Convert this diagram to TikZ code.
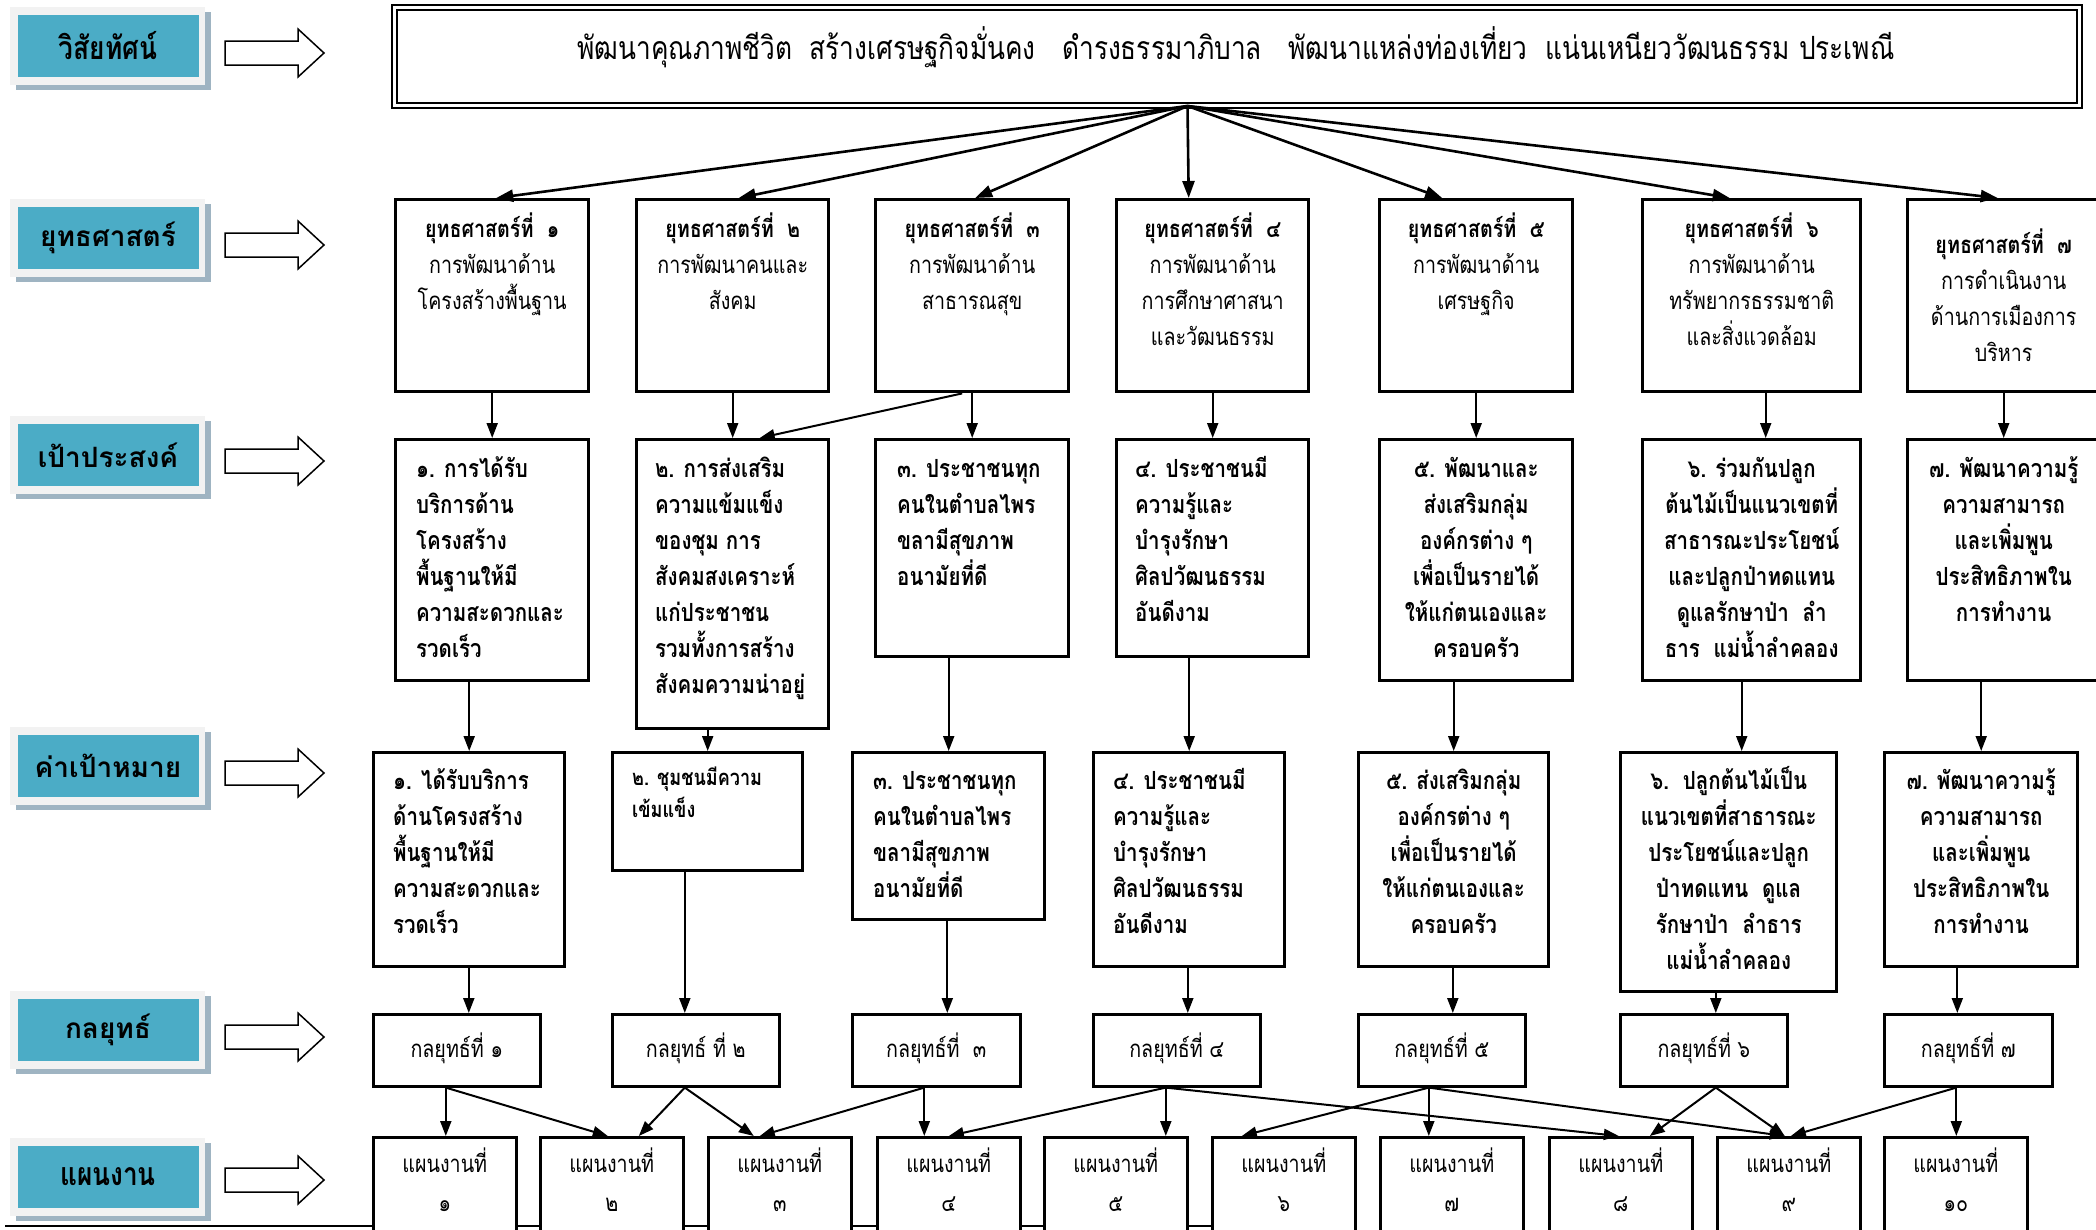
\documentclass[tikz,border=0pt]{standalone}
\usepackage{fontspec}
\usetikzlibrary{arrows.meta,calc}
\newfontfamily\thfont[Script=Thai,FakeStretch=0.82]{Loma}
\newfontfamily\thwide[Script=Thai]{Loma}
\definecolor{labteal}{HTML}{4BACC6}
\definecolor{labframe}{HTML}{F2F2F2}
\definecolor{labshadow}{HTML}{9FB4C2}
\newcommand\tstrut{\rule{0pt}{26pt}}
\newcommand\sidelabel[4]{%
  \fill[labshadow] (16,#2-35) rectangle (211,#2+43);
  \fill[labframe] (10,#2-40) rectangle (205,#2+38);
  \node[fill=labteal, minimum width=181, minimum height=62, inner sep=0pt, font=#4] (#1) at (108,#2-1) {#3};}
\newcommand\blockarrow[1]{%
  \draw[line width=1.5pt, fill=white, line join=miter] (225,#1-12) -- (298,#1-12) -- (298,#1-24) -- (324,#1) -- (298,#1+24) -- (298,#1+12) -- (225,#1+12) -- cycle;}
\begin{document}
\begin{tikzpicture}[x=1pt,y=-1pt,
  bx/.style={draw, line width=3.4pt, inner sep=0pt, anchor=north west, fill=white},
  kbx/.style={draw, line width=2.6pt, inner sep=0pt, anchor=north west, fill=white},
  st/.style={inner sep=0pt, anchor=north, align=center, font=\thfont\fontsize{24}{36}\selectfont},
  ot/.style={inner sep=0pt, anchor=north west, align=left, font=\thfont\bfseries\fontsize{25}{36}\selectfont},
  oc/.style={inner sep=0pt, anchor=north, align=center, font=\thfont\bfseries\fontsize{25}{36}\selectfont},
  kt/.style={inner sep=0pt, font=\thfont\fontsize{24}{36}\selectfont},
  pt/.style={inner sep=0pt, anchor=north, align=center, font=\thfont\fontsize{24}{39}\selectfont},
  con/.style={line width=2pt, -{Triangle[length=15pt,width=11pt]}},
  vcon/.style={line width=2.6pt, -{Triangle[length=17pt,width=12pt]}},
]
\useasboundingbox (0,0) rectangle (2096,1229);

% side labels
\sidelabel{lv}{47}{วิสัยทัศน์}{\thfont\bfseries\fontsize{32}{34}\selectfont}
\sidelabel{ls}{239}{ยุทธศาสตร์}{\thwide\bfseries\fontsize{28}{30}\selectfont}
\sidelabel{lo}{456}{เป้าประสงค์}{\thwide\bfseries\fontsize{28}{30}\selectfont}
\sidelabel{lt}{767}{ค่าเป้าหมาย}{\thwide\bfseries\fontsize{28}{30}\selectfont}
\sidelabel{lk}{1031}{กลยุทธ์}{\thwide\bfseries\fontsize{28}{30}\selectfont}
\sidelabel{lp}{1178}{แผนงาน}{\thfont\bfseries\fontsize{32}{34}\selectfont}
\blockarrow{53}
\blockarrow{245}
\blockarrow{461}
\blockarrow{773}
\blockarrow{1037}
\blockarrow{1180}

% vision
\node[draw, double, double distance=3pt, line width=2pt, inner sep=0pt, anchor=north west,
      minimum width=1685, minimum height=98] (vis) at (393,6) {};
\node[inner sep=0pt, font=\thfont\fontsize{32}{36}\selectfont] (vist) at (1236,47)
  {พัฒนาคุณภาพชีวิต\ \ สร้างเศรษฐกิจมั่นคง\ \ \ ดำรงธรรมาภิบาล\ \ \ พัฒนาแหล่งท่องเที่ยว\ \ แน่นเหนียววัฒนธรรม ประเพณี};

% strategies
\node[bx, minimum width=193, minimum height=192] (s1) at (394,198) {};
\node[bx, minimum width=192, minimum height=192] (s2) at (635,198) {};
\node[bx, minimum width=193, minimum height=192] (s3) at (874,198) {};
\node[bx, minimum width=192, minimum height=192] (s4) at (1115,198) {};
\node[bx, minimum width=193, minimum height=192] (s5) at (1378,198) {};
\node[bx, minimum width=218, minimum height=192] (s6) at (1641,198) {};
\node[bx, minimum width=192, minimum height=192] (s7) at (1906,198) {};
\node[st] (s1t) at ($(s1.north)+(0,13)$) {\tstrut\textbf{ยุทธศาสตร์ที่\ \ ๑}\\การพัฒนาด้าน\\โครงสร้างพื้นฐาน};
\node[st] (s2t) at ($(s2.north)+(0,13)$) {\tstrut\textbf{ยุทธศาสตร์ที่\ \ ๒}\\การพัฒนาคนและ\\สังคม};
\node[st] (s3t) at ($(s3.north)+(0,13)$) {\tstrut\textbf{ยุทธศาสตร์ที่\ \ ๓}\\การพัฒนาด้าน\\สาธารณสุข};
\node[st] (s4t) at ($(s4.north)+(0,13)$) {\tstrut\textbf{ยุทธศาสตร์ที่\ \ ๔}\\การพัฒนาด้าน\\การศึกษาศาสนา\\และวัฒนธรรม};
\node[st] (s5t) at ($(s5.north)+(0,13)$) {\tstrut\textbf{ยุทธศาสตร์ที่\ \ ๕}\\การพัฒนาด้าน\\เศรษฐกิจ};
\node[st] (s6t) at ($(s6.north)+(0,13)$) {\tstrut\textbf{ยุทธศาสตร์ที่\ \ ๖}\\การพัฒนาด้าน\\ทรัพยากรธรรมชาติ\\และสิ่งแวดล้อม};
\node[st] (s7t) at ($(s7.north)+(0,29)$) {\tstrut\textbf{ยุทธศาสตร์ที่\ \ ๗}\\การดำเนินงาน\\ด้านการเมืองการ\\บริหาร};

% objectives
\node[bx, minimum width=193, minimum height=241] (o1) at (394,438) {};
\node[bx, minimum width=192, minimum height=289] (o2) at (635,438) {};
\node[bx, minimum width=193, minimum height=217] (o3) at (874,438) {};
\node[bx, minimum width=192, minimum height=217] (o4) at (1115,438) {};
\node[bx, minimum width=193, minimum height=241] (o5) at (1378,438) {};
\node[bx, minimum width=218, minimum height=241] (o6) at (1641,438) {};
\node[bx, minimum width=192, minimum height=241] (o7) at (1906,438) {};
\node[ot] (o1t) at ($(o1.north west)+(22,13)$) {\tstrut๑. การได้รับ\\บริการด้าน\\โครงสร้าง\\พื้นฐานให้มี\\ความสะดวกและ\\รวดเร็ว};
\node[ot] (o2t) at ($(o2.north west)+(20,13)$) {\tstrut๒. การส่งเสริม\\ความแข้มแข็ง\\ของชุม การ\\สังคมสงเคราะห์\\แก่ประชาชน\\รวมทั้งการสร้าง\\สังคมความน่าอยู่};
\node[ot] (o3t) at ($(o3.north west)+(23,13)$) {\tstrut๓. ประชาชนทุก\\คนในตำบลไพร\\ขลามีสุขภาพ\\อนามัยที่ดี};
\node[ot] (o4t) at ($(o4.north west)+(20,13)$) {\tstrut๔. ประชาชนมี\\ความรู้และ\\บำรุงรักษา\\ศิลปวัฒนธรรม\\อันดีงาม};
\node[oc] (o5t) at ($(o5.north)+(0,13)$) {\tstrut๕. พัฒนาและ\\ส่งเสริมกลุ่ม\\องค์กรต่าง ๆ\\เพื่อเป็นรายได้\\ให้แก่ตนเองและ\\ครอบครัว};
\node[oc] (o6t) at ($(o6.north)+(0,13)$) {\tstrut๖. ร่วมกันปลูก\\ต้นไม้เป็นแนวเขตที่\\สาธารณะประโยชน์\\และปลูกป่าทดแทน\\ดูแลรักษาป่า\ \ ลำ\\ธาร\ \ แม่น้ำลำคลอง};
\node[oc] (o7t) at ($(o7.north)+(0,13)$) {\tstrut๗. พัฒนาความรู้\\ความสามารถ\\และเพิ่มพูน\\ประสิทธิภาพใน\\การทำงาน};

% targets
\node[bx, minimum width=191, minimum height=214] (t1) at (372,751) {};
\node[bx, minimum width=190, minimum height=118] (t2) at (611,751) {};
\node[bx, minimum width=192, minimum height=167] (t3) at (851,751) {};
\node[bx, minimum width=191, minimum height=214] (t4) at (1092,751) {};
\node[bx, minimum width=190, minimum height=214] (t5) at (1357,751) {};
\node[bx, minimum width=216, minimum height=239] (t6) at (1619,751) {};
\node[bx, minimum width=193, minimum height=214] (t7) at (1883,751) {};
\node[ot] (t1t) at ($(t1.north west)+(21,12)$) {\tstrut๑. ได้รับบริการ\\ด้านโครงสร้าง\\พื้นฐานให้มี\\ความสะดวกและ\\รวดเร็ว};
\node[ot, font=\thfont\bfseries\fontsize{22}{32}\selectfont] (t2t) at ($(t2.north west)+(21,11)$) {\rule{0pt}{23pt}๒. ชุมชนมีความ\\เข้มแข็ง};
\node[ot] (t3t) at ($(t3.north west)+(22,12)$) {\tstrut๓. ประชาชนทุก\\คนในตำบลไพร\\ขลามีสุขภาพ\\อนามัยที่ดี};
\node[ot] (t4t) at ($(t4.north west)+(21,12)$) {\tstrut๔. ประชาชนมี\\ความรู้และ\\บำรุงรักษา\\ศิลปวัฒนธรรม\\อันดีงาม};
\node[oc] (t5t) at ($(t5.north)+(0,12)$) {\tstrut๕. ส่งเสริมกลุ่ม\\องค์กรต่าง ๆ\\เพื่อเป็นรายได้\\ให้แก่ตนเองและ\\ครอบครัว};
\node[oc] (t6t) at ($(t6.north)+(0,12)$) {\tstrut๖.\ \ ปลูกต้นไม้เป็น\\แนวเขตที่สาธารณะ\\ประโยชน์และปลูก\\ป่าทดแทน\ \ ดูแล\\รักษาป่า\ \ ลำธาร\\แม่น้ำลำคลอง};
\node[oc] (t7t) at ($(t7.north)+(0,12)$) {\tstrut๗. พัฒนาความรู้\\ความสามารถ\\และเพิ่มพูน\\ประสิทธิภาพใน\\การทำงาน};

% strategies (kloyut)
\node[kbx, minimum width=167, minimum height=72] (k1) at (372,1013) {};
\node[kbx, minimum width=167, minimum height=72] (k2) at (611,1013) {};
\node[kbx, minimum width=168, minimum height=72] (k3) at (851,1013) {};
\node[kbx, minimum width=167, minimum height=72] (k4) at (1092,1013) {};
\node[kbx, minimum width=167, minimum height=72] (k5) at (1357,1013) {};
\node[kbx, minimum width=167, minimum height=72] (k6) at (1619,1013) {};
\node[kbx, minimum width=168, minimum height=72] (k7) at (1883,1013) {};
\node[kt] (k1t) at ($(k1.center)+(0,-2)$) {กลยุทธ์ที่ ๑};
\node[kt] (k2t) at ($(k2.center)+(0,-2)$) {กลยุทธ์ ที่ ๒};
\node[kt] (k3t) at ($(k3.center)+(0,-2)$) {กลยุทธ์ที่\ \ ๓};
\node[kt] (k4t) at ($(k4.center)+(0,-2)$) {กลยุทธ์ที่ ๔};
\node[kt] (k5t) at ($(k5.center)+(0,-2)$) {กลยุทธ์ที่ ๕};
\node[kt] (k6t) at ($(k6.center)+(0,-2)$) {กลยุทธ์ที่ ๖};
\node[kt] (k7t) at ($(k7.center)+(0,-2)$) {กลยุทธ์ที่ ๗};

% bottom rule and plans
\coordinate (rl) at (5,1226);
\coordinate (rr) at (1211,1226);
\draw[line width=2.5pt] (rl) -- (rr);
\node[kbx, minimum width=143, minimum height=110] (p1) at (372,1136) {};
\node[kbx, minimum width=143, minimum height=110] (p2) at (539,1136) {};
\node[kbx, minimum width=143, minimum height=110] (p3) at (707,1136) {};
\node[kbx, minimum width=143, minimum height=110] (p4) at (876,1136) {};
\node[kbx, minimum width=143, minimum height=110] (p5) at (1043,1136) {};
\node[kbx, minimum width=143, minimum height=110] (p6) at (1211,1136) {};
\node[kbx, minimum width=143, minimum height=110] (p7) at (1379,1136) {};
\node[kbx, minimum width=143, minimum height=110] (p8) at (1548,1136) {};
\node[kbx, minimum width=143, minimum height=110] (p9) at (1716,1136) {};
\node[kbx, minimum width=143, minimum height=110] (p10) at (1883,1136) {};
\node[pt] (p1t) at ($(p1.north)+(0,10)$) {\tstrut แผนงานที่\\๑};
\node[pt] (p2t) at ($(p2.north)+(0,10)$) {\tstrut แผนงานที่\\๒};
\node[pt] (p3t) at ($(p3.north)+(0,10)$) {\tstrut แผนงานที่\\๓};
\node[pt] (p4t) at ($(p4.north)+(0,10)$) {\tstrut แผนงานที่\\๔};
\node[pt] (p5t) at ($(p5.north)+(0,10)$) {\tstrut แผนงานที่\\๕};
\node[pt] (p6t) at ($(p6.north)+(0,10)$) {\tstrut แผนงานที่\\๖};
\node[pt] (p7t) at ($(p7.north)+(0,10)$) {\tstrut แผนงานที่\\๗};
\node[pt] (p8t) at ($(p8.north)+(0,10)$) {\tstrut แผนงานที่\\๘};
\node[pt] (p9t) at ($(p9.north)+(0,10)$) {\tstrut แผนงานที่\\๙};
\node[pt] (p10t) at ($(p10.north)+(0,10)$) {\tstrut แผนงานที่\\๑๐};

% vision -> strategies
\coordinate (vo) at ($(vis.south)+(-49,0)$);
\draw[vcon] (vo) -- ($(s1.north)+(4,0)$);
\draw[vcon] (vo) -- ($(s2.north)+(6,0)$);
\draw[vcon] (vo) -- ($(s3.north)+(3,0)$);
\draw[vcon] (vo) -- ($(s4.north)+(-24,0)$);
\draw[vcon] (vo) -- ($(s5.north)+(-34,0)$);
\draw[vcon] (vo) -- ($(s6.north)+(-22,0)$);
\draw[vcon] (vo) -- ($(s7.north)+(-6,0)$);

% strategies -> objectives
\draw[con] (s1.south) -- (o1.north);
\draw[con] (s2.south) -- (o2.north);
\draw[con] (s3.south) -- (o3.north);
\draw[con] (s4.south) -- (o4.north);
\draw[con] (s5.south) -- (o5.north);
\draw[con] ($(s6.south)+(14,0)$) -- ($(o6.north)+(14,0)$);
\draw[con] (s7.south) -- (o7.north);
\draw[con] ($(s3.south)+(-10,0)$) -- ($(o2.north)+(27,0)$);

% objectives -> targets
\draw[con] (t1.north |- o1.south) -- (t1.north);
\draw[con] (t2.north |- o2.south) -- (t2.north);
\draw[con] (t3.north |- o3.south) -- (t3.north);
\draw[con] (t4.north |- o4.south) -- (t4.north);
\draw[con] (t5.north |- o5.south) -- (t5.north);
\draw[con] ($(t6.north |- o6.south)+(13,0)$) -- ($(t6.north)+(13,0)$);
\draw[con] (t7.north |- o7.south) -- (t7.north);

% targets -> kloyut
\draw[con] ($(k1.north |- t1.south)+(12,0)$) -- ($(k1.north)+(12,0)$);
\draw[con] ($(k2.north |- t2.south)+(-11,0)$) -- ($(k2.north)+(-11,0)$);
\draw[con] ($(k3.north |- t3.south)+(11,0)$) -- ($(k3.north)+(11,0)$);
\draw[con] ($(k4.north |- t4.south)+(11,0)$) -- ($(k4.north)+(11,0)$);
\draw[con] ($(k5.north |- t5.south)+(11,0)$) -- ($(k5.north)+(11,0)$);
\draw[con] ($(k6.north |- t6.south)+(12,0)$) -- ($(k6.north)+(12,0)$);
\draw[con] ($(k7.north |- t7.south)+(-11,0)$) -- ($(k7.north)+(-11,0)$);

% kloyut -> plans
\coordinate (k1o) at ($(k1.south)+(-11,0)$);
\coordinate (k2o) at ($(k2.south)+(-11,0)$);
\coordinate (k3o) at ($(k3.south)+(-12,0)$);
\coordinate (k4o) at ($(k4.south)+(-11,0)$);
\coordinate (k5o) at ($(k5.south)+(-13,0)$);
\coordinate (k6o) at ($(k6.south)+(12,0)$);
\coordinate (k7o) at ($(k7.south)+(-12,0)$);
\draw[con] (k1o) -- (k1o |- p1.north);
\draw[con] (k1o) -- ($(p2.north)+(-4,0)$);
\draw[con] (k2o) -- ($(p2.north)+(27,0)$);
\draw[con] (k2o) -- ($(p3.north)+(-26,0)$);
\draw[con] (k3o) -- ($(p3.north)+(-20,0)$);
\draw[con] (k3o) -- (k3o |- p4.north);
\draw[con] (k4o) -- (p4.north);
\draw[con] (k4o) -- (k4o |- p5.north);
\draw[con] (k4o) -- ($(p8.north)+(-2,0)$);
\draw[con] (k5o) -- ($(p6.north)+(-42,0)$);
\draw[con] (k5o) -- (k5o |- p7.north);
\draw[con] (k5o) -- ($(p9.north)+(-4,0)$);
\draw[con] (k6o) -- ($(p8.north)+(29,0)$);
\draw[con] (k6o) -- ($(p9.north)+(-4,0)$);
\draw[con] (k7o) -- ($(p9.north)+(2,0)$);
\draw[con] (k7o) -- (k7o |- p10.north);
\end{tikzpicture}
\end{document}
